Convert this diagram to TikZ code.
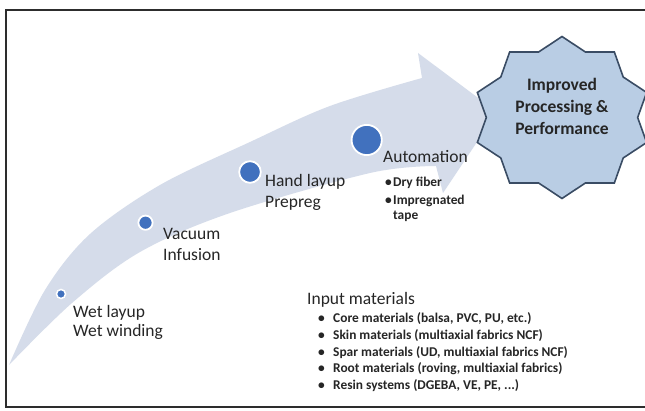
\documentclass[tikz,border=0pt]{standalone}
\usepackage{fontspec}
\setmainfont{Carlito}
\definecolor{arrowfill}{RGB}{213,220,234}
\definecolor{starfill}{RGB}{185,205,228}
\definecolor{stardraw}{RGB}{58,76,100}
\definecolor{dotblue}{RGB}{65,113,190}
\definecolor{txt}{RGB}{38,38,38}
\definecolor{framecol}{RGB}{45,45,45}
\begin{document}
\begin{tikzpicture}[x=1pt,y=-1pt,
  lbl/.style={anchor=base west, inner sep=0pt, text=txt, font=\fontsize{17.5}{21}\selectfont},
  sub/.style={anchor=base west, inner sep=0pt, text=txt, font=\bfseries\fontsize{13.4}{16}\selectfont},
  bul/.style={anchor=base west, inner sep=0pt, text=txt, font=\bfseries\fontsize{13.4}{16}\selectfont},
  startxt/.style={anchor=base, inner sep=0pt, text=txt, font=\bfseries\fontsize{17.5}{21}\selectfont},
  dot/.style={circle, fill=dotblue, draw=white, line width=1.8pt, inner sep=0pt},
  starline/.style={draw=stardraw, fill=starfill, line width=1.6pt, line join=miter}]
\clip (0,0) rectangle (645,411);
\fill[white] (0,0) rectangle (645,411);
% frame
\draw[framecol, line width=2.5pt] (6,10) rectangle (660,407);
% curved arrow
\fill[arrowfill]
  plot[smooth, tension=0.55] coordinates {(9,365) (45,290) (90,234) (160,185) (250,142) (330,106) (422,78)}
  -- (418,53) -- (497,112) -- (443,193) -- (436,166)
  -- plot[smooth, tension=0.55] coordinates {(436,166) (370,173) (230,213) (140,252) (72,303) (9,365)}
  -- cycle;
% star
\draw[starline] (562,36.5)
  \foreach \k in {1,...,19}{ -- ({562+89*(1-0.15*mod(\k,2))*cos(90+18*\k)},{117.5-81*(1-0.15*mod(\k,2))*sin(90+18*\k)}) }
  -- cycle;
\node[startxt] (s1) at (562,91) {Improved};
\node[startxt] (s2) at (562,113) {Processing \&};
\node[startxt] (s3) at (562,135) {Performance};
% dots
\node[dot, minimum size=9pt, line width=1.5pt] (d1) at (61,294) {};
\node[dot, minimum size=14.2pt] (d2) at (145.5,222.7) {};
\node[dot, minimum size=21.6pt] (d3) at (250,172) {};
\node[dot, minimum size=30.2pt] (d4) at (366.7,140) {};
% stage labels
\node[lbl] (w1) at (73,318) {Wet layup};
\node[lbl] (w2) at (73,337) {Wet winding};
\node[lbl] (v1) at (163,240) {Vacuum};
\node[lbl] (v2) at (163,260.5) {Infusion};
\node[lbl] (h1) at (265,187) {Hand layup};
\node[lbl] (h2) at (265,208) {Prepreg};
\node[lbl] (a1) at (383,163) {Automation};
\node[bul] (ab1) at (385,187) {•};
\node[sub] (at1) at (393,187) {Dry fiber};
\node[bul] (ab2) at (385,205) {•};
\node[sub] (at2) at (393,205) {Impregnated};
\node[sub] (at3) at (393,220) {tape};
% input materials
\node[lbl] (im) at (307,305) {Input materials};
\node[bul] (ib1) at (318,323) {•};
\node[sub] (it1) at (333,323) {Core materials (balsa, PVC, PU, etc.)};
\node[bul] (ib2) at (318,340) {•};
\node[sub] (it2) at (333,340) {Skin materials (multiaxial fabrics NCF)};
\node[bul] (ib3) at (318,356.5) {•};
\node[sub] (it3) at (333,356.5) {Spar materials (UD, multiaxial fabrics NCF)};
\node[bul] (ib4) at (318,373) {•};
\node[sub] (it4) at (333,373) {Root materials (roving, multiaxial fabrics)};
\node[bul] (ib5) at (318,389.5) {•};
\node[sub] (it5) at (333,389.5) {Resin systems (DGEBA, VE, PE, ...)};
\end{tikzpicture}
\end{document}
